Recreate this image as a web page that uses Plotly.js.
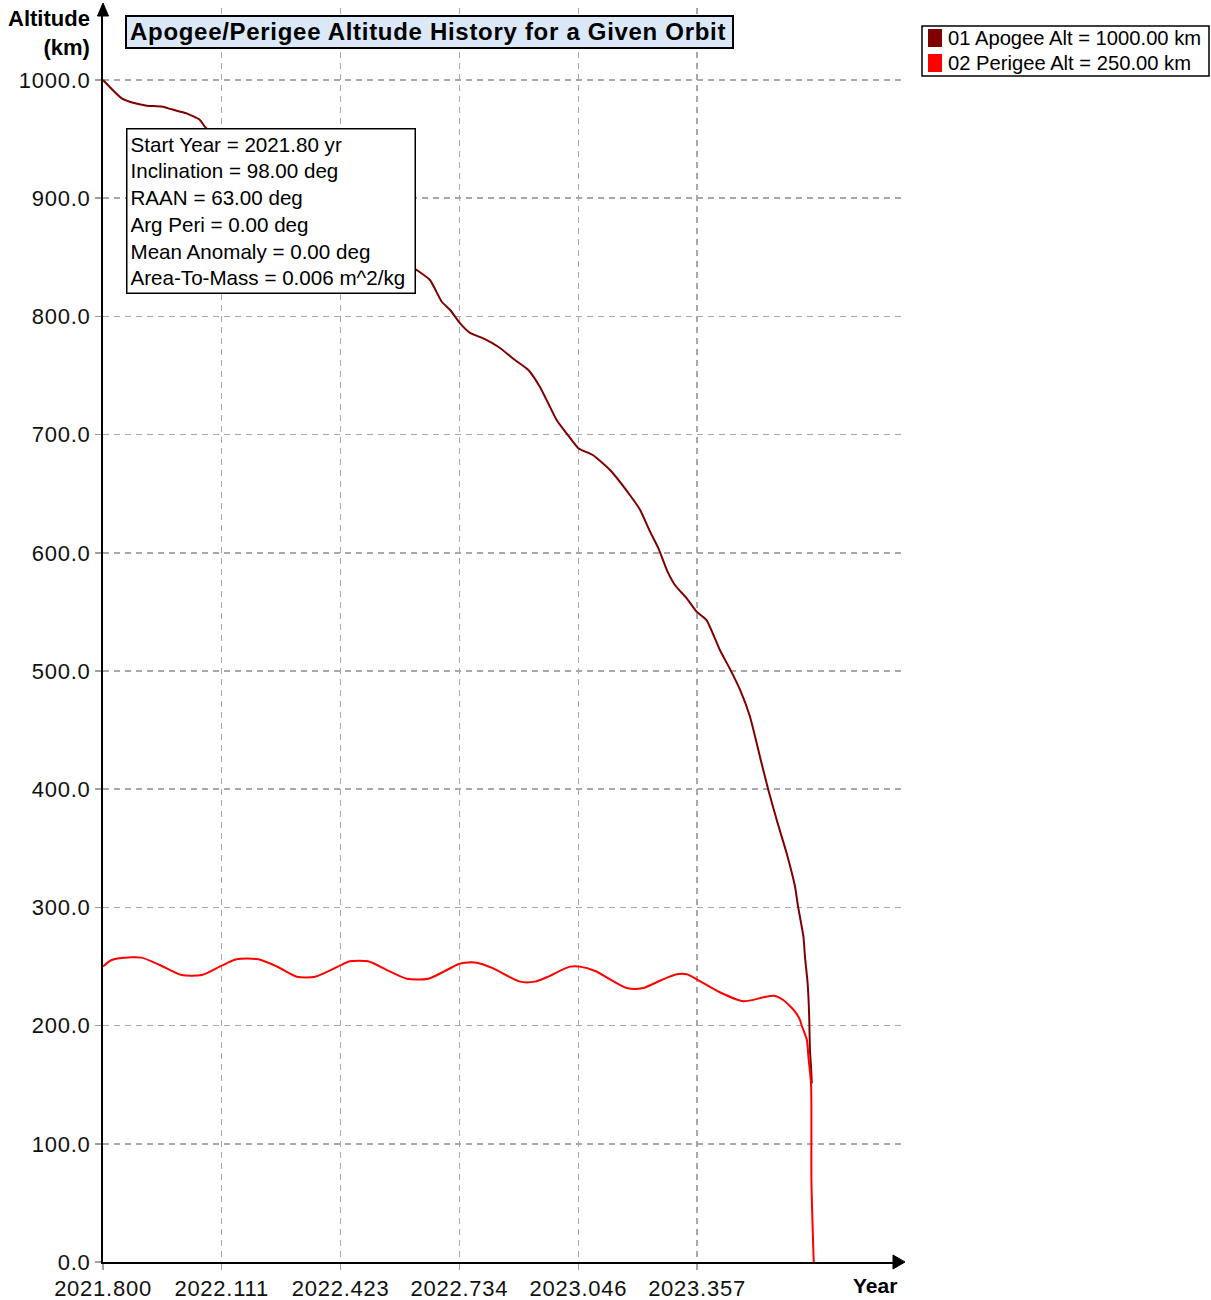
<!DOCTYPE html>
<html><head><meta charset="utf-8">
<script src="https://cdn.plot.ly/plotly-3.0.1.min.js"></script>
<style>
html,body{margin:0;padding:0;background:#fff}
#chart{width:1211px;height:1300px}
.xtick text, .ytick text{letter-spacing:0.75px}
.gtitle{letter-spacing:0.7px}
</style>
</head><body><div id="chart"></div>
<script>
// ---------------- data ----------------
const seriesNames = ['01 Apogee Alt = 1000.00 km', '02 Perigee Alt = 250.00 km'];

const apogeeYear = [2021.800,2021.849,2021.884,2021.915,2021.954,2021.980,2022.019,2022.054,2022.067,
  2022.133,2022.212,2022.290,2022.369,2022.447,2022.539,
  2022.622,2022.657,2022.688,2022.710,2022.736,2022.762,2022.797,2022.836,2022.880,2022.915,2022.945,
  2022.967,2022.989,2023.015,2023.046,2023.085,2023.129,2023.181,2023.208,2023.234,2023.256,2023.278,
  2023.299,2023.330,2023.356,2023.382,2023.417,2023.443,2023.470,2023.496,2023.522,2023.544,2023.566,
  2023.592,2023.614,2023.622,2023.636,2023.640,2023.647,2023.651,2023.653,2023.656,2023.658];
const apogeeAlt = [1000,984.5,980.3,978.3,977.5,975.2,971.8,966.2,960.5,
  940,915,897,885,873,856,
  839.3,830.8,812.4,805.4,794.1,786.1,781.4,774.3,763.1,754.7,740.5,
  726.5,712.4,701.1,688.5,682.5,670,648.9,636.2,617.9,603.8,585.4,
  572.8,561.5,550.2,543.1,517.8,502,484,461.3,427.5,399.3,373.9,
  345.8,317.5,300.6,275.2,258.3,235.8,209,179.4,165,151];

const perigeeYear = [2021.800,2021.823,2021.875,2021.901,2021.949,2022.006,2022.059,2022.111,2022.150,2022.207,
  2022.256,2022.308,2022.356,2022.421,2022.447,2022.495,2022.544,2022.596,2022.653,2022.731,2022.749,
  2022.780,2022.823,2022.893,2022.932,2022.963,2023.024,2023.050,2023.090,2023.173,2023.216,2023.264,
  2023.304,2023.330,2023.356,2023.417,2023.478,2023.531,2023.559,2023.583,2023.614,2023.627,2023.631,
  2023.645,2023.649,2023.656,2023.657,2023.663];
const perigeeAlt = [250,255.5,257.8,257.5,251.3,242.8,242.8,250.7,256.1,256.1,
  250,241.4,241.4,250.7,254.4,254.4,247,239.7,239.7,251.9,253.2,
  253.2,248.4,237.2,237.2,240.9,249.9,249.9,246.2,231.8,231.8,238.6,
  243.4,243.4,239.2,228.2,220.6,223.9,225.3,221.7,211.8,204.7,200.5,
  187.8,173.7,150,68,0];

const xTickVals = [2021.800,2022.111,2022.423,2022.734,2023.046,2023.357];
const xTickText = ['2021.800','2022.111','2022.423','2022.734','2023.046','2023.357'];
const yTickVals = [0,100,200,300,400,500,600,700,800,900,1000];

const chartTitle = 'Apogee/Perigee Altitude History for a Given Orbit';
const yTitleLines = ['Altitude','(km)'];
const xTitle = 'Year';
const infoLines = ['Start Year = 2021.80 yr','Inclination = 98.00 deg','RAAN = 63.00 deg',
  'Arg Peri = 0.00 deg','Mean Anomaly = 0.00 deg','Area-To-Mass = 0.006 m^2/kg'];

// ---------------- layout helpers ----------------
const L = 103, R = 903, T = 8, B = 1262;
const px = x => (x - L) / (R - L);
const py = y => (B - y) / (B - T);
const FONT = 'Liberation Sans, Arial, sans-serif';
const apogeeColor = '#800000';
const perigeeColor = '#ff0000';

const traces = [
  {x: apogeeYear, y: apogeeAlt, name: seriesNames[0], type: 'scatter', mode: 'lines',
   line: {color: apogeeColor, width: 2, shape: 'spline', smoothing: 0.5}, showlegend: false},
  {x: perigeeYear, y: perigeeAlt, name: seriesNames[1], type: 'scatter', mode: 'lines',
   line: {color: perigeeColor, width: 2, shape: 'spline', smoothing: 0.7}, showlegend: false}
];

const gridStyle = {showgrid: true, gridcolor: '#a8a8a8', gridwidth: 1.5, griddash: '6px,5px',
  showline: true, linecolor: '#000', linewidth: 2, ticks: 'outside', ticklen: 6,
  tickcolor: '#a0a0a0', tickwidth: 1.5, zeroline: false, fixedrange: true,
  tickfont: {family: FONT, size: 22, color: '#111'}};

const shapes = [
  // title box
  {type: 'rect', xref: 'paper', yref: 'paper', x0: px(126), x1: px(733), y0: py(16), y1: py(48),
   fillcolor: '#dbe8f8', line: {color: '#000', width: 2}, layer: 'above'},
  // legend box
  {type: 'rect', xref: 'paper', yref: 'paper', x0: px(922), x1: px(1209), y0: py(26), y1: py(76),
   fillcolor: '#fff', line: {color: '#000', width: 1.5}, layer: 'above'},
  {type: 'rect', xref: 'paper', yref: 'paper', x0: px(928), x1: px(942), y0: py(29), y1: py(47),
   fillcolor: apogeeColor, line: {width: 0}, layer: 'above'},
  {type: 'rect', xref: 'paper', yref: 'paper', x0: px(928), x1: px(942), y0: py(54), y1: py(72),
   fillcolor: perigeeColor, line: {width: 0}, layer: 'above'},
  // axis arrows
  {type: 'path', xref: 'paper', yref: 'paper',
   path: `M ${px(103)} ${py(3)} L ${px(97.5)} ${py(16)} L ${px(108.5)} ${py(16)} Z`,
   fillcolor: '#000', line: {color: '#000', width: 1}, layer: 'above'},
  {type: 'path', xref: 'paper', yref: 'paper',
   path: `M ${px(905)} ${py(1262)} L ${px(893)} ${py(1255)} L ${px(893)} ${py(1269)} Z`,
   fillcolor: '#000', line: {color: '#000', width: 1}, layer: 'above'}
];

const annotations = [
  {xref: 'paper', yref: 'paper', x: px(126), y: py(128), xanchor: 'left', yanchor: 'top',
   text: infoLines.join('<br>'), align: 'left', showarrow: false, width: 281,
   font: {family: FONT, size: 20.6, color: '#000'}, bgcolor: '#fff', bordercolor: '#000',
   borderwidth: 1.5, borderpad: 3},
  {xref: 'paper', yref: 'paper', x: px(946), y: py(38), xanchor: 'left', yanchor: 'middle',
   text: seriesNames[0], showarrow: false, font: {family: FONT, size: 20.2, color: '#000'}},
  {xref: 'paper', yref: 'paper', x: px(946), y: py(63), xanchor: 'left', yanchor: 'middle',
   text: seriesNames[1], showarrow: false, font: {family: FONT, size: 20.2, color: '#000'}},
  {xref: 'paper', yref: 'paper', x: px(92), y: py(4), xanchor: 'right', yanchor: 'top',
   text: '<b>' + yTitleLines.join('<br>') + '</b>', align: 'right', showarrow: false,
   font: {family: FONT, size: 22, color: '#000'}},
  {xref: 'paper', yref: 'paper', x: px(875), y: py(1285), xanchor: 'center', yanchor: 'middle',
   text: '<b>' + xTitle + '</b>', showarrow: false, font: {family: FONT, size: 21, color: '#000'}}
];

const layout = {
  width: 1211, height: 1300,
  margin: {l: L, r: 1211 - R, t: T, b: 1300 - B, pad: 0},
  paper_bgcolor: '#fff', plot_bgcolor: '#fff',
  font: {family: FONT, color: '#000'},
  title: {text: '<b>' + chartTitle + '</b>', xref: 'paper', x: px(130), xanchor: 'left',
          yref: 'container', y: 1 - 32 / 1300, yanchor: 'middle',
          font: {family: FONT, size: 24, color: '#000'}},
  xaxis: Object.assign({}, gridStyle, {range: [2021.8, 2021.8 + 800 / 381.5],
          tickmode: 'array', tickvals: xTickVals, ticktext: xTickText}),
  yaxis: Object.assign({}, gridStyle, {range: [0, (B - T) / 1.182],
          tickmode: 'array', tickvals: yTickVals, tickformat: '.1f'}),
  shapes: shapes,
  annotations: annotations,
  showlegend: false
};

Plotly.newPlot('chart', traces, layout, {displayModeBar: false, staticPlot: true});
</script>
</body></html>
